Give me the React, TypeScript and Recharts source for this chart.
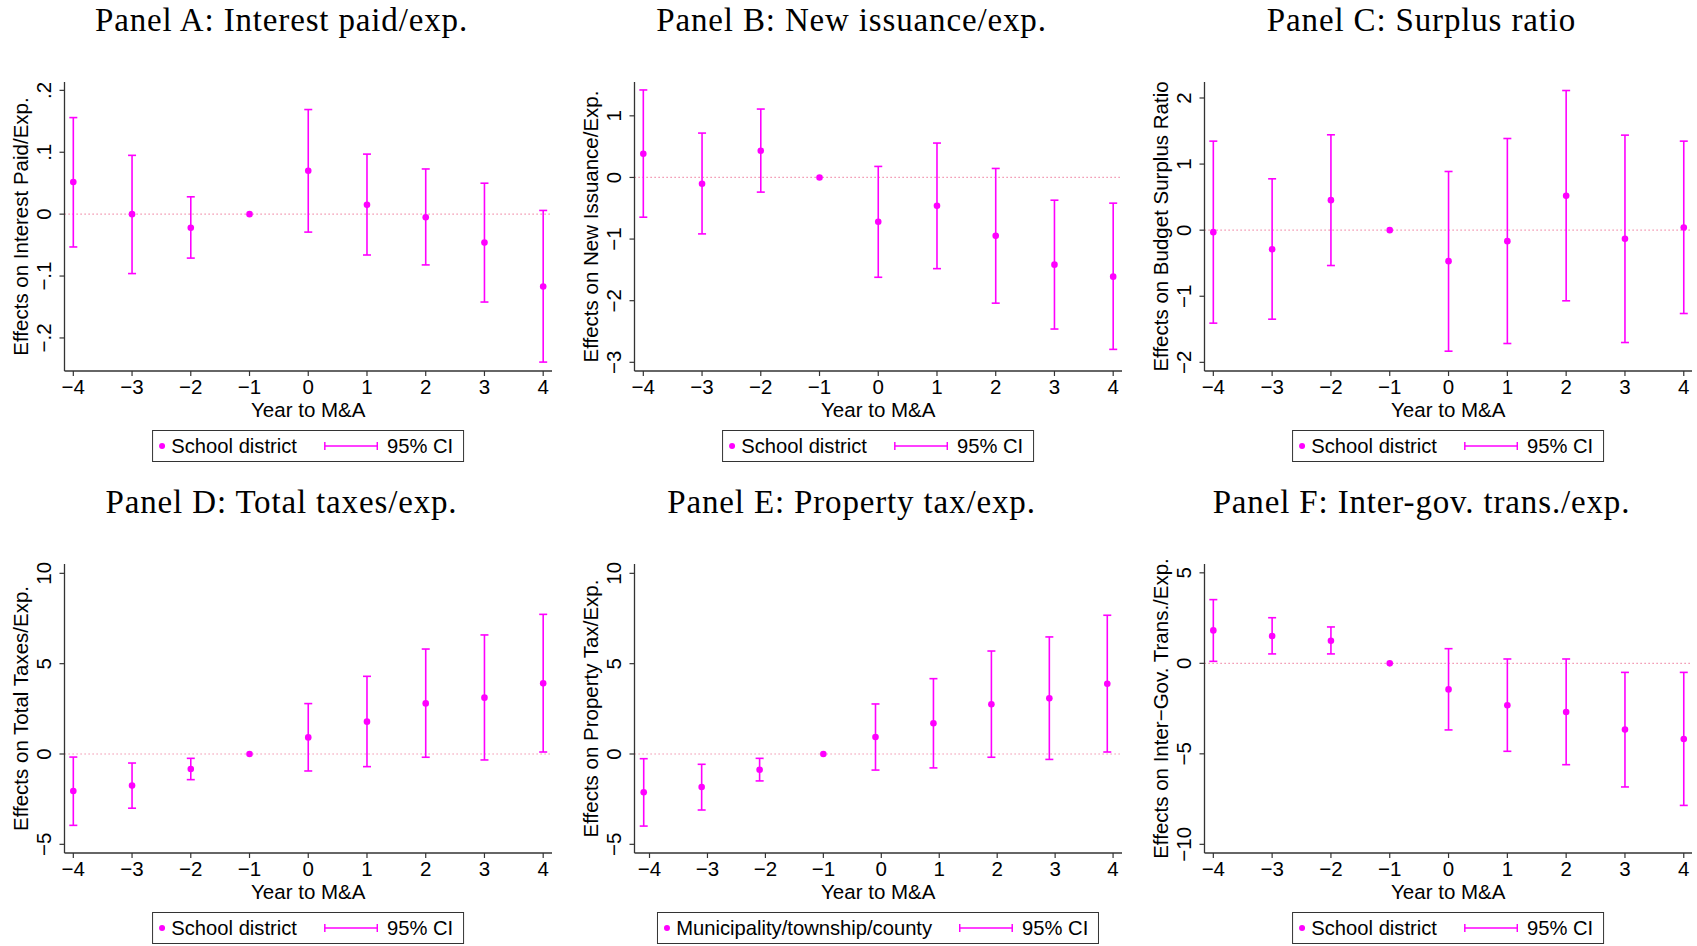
import { ScatterChart, Scatter, ErrorBar, XAxis, YAxis, ReferenceLine } from 'recharts';

const SANS = '"Liberation Sans", Arial, Helvetica, sans-serif';
const SERIF = '"Liberation Serif", "Times New Roman", serif';
const MAGENTA = '#ff00ff';
const FRAME = '#333333';
const FS = 20.5;

const years = [-4, -3, -2, -1, 0, 1, 2, 3, 4];
// panel E estimates sit a little left of each year (base year stays at -1)
const yearsShifted = [-4.1, -3.1, -2.1, -1, -0.1, 0.9, 1.9, 2.9, 3.9];

const interestCoef = [0.052, 0, -0.022, 0, 0.07, 0.015, -0.005, -0.046, -0.117];
const interestLo = [-0.053, -0.096, -0.071, null, -0.029, -0.066, -0.082, -0.142, -0.239];
const interestHi = [0.156, 0.095, 0.028, null, 0.169, 0.097, 0.073, 0.05, 0.006];

const issuanceCoef = [0.385, -0.103, 0.434, 0, -0.72, -0.46, -0.948, -1.415, -1.61];
const issuanceLo = [-0.645, -0.916, -0.238, null, -1.62, -1.48, -2.04, -2.46, -2.79];
const issuanceHi = [1.42, 0.72, 1.11, null, 0.179, 0.558, 0.146, -0.369, -0.417];

const surplusCoef = [-0.03, -0.288, 0.454, 0, -0.469, -0.166, 0.52, -0.131, 0.04];
const surplusLo = [-1.407, -1.347, -0.535, null, -1.831, -1.715, -1.069, -1.7, -1.261];
const surplusHi = [1.347, 0.777, 1.443, null, 0.888, 1.387, 2.113, 1.438, 1.347];

const taxesCoef = [-2.05, -1.75, -0.83, 0, 0.92, 1.79, 2.8, 3.12, 3.91];
const taxesLo = [-3.95, -3.0, -1.42, null, -0.94, -0.7, -0.18, -0.33, 0.11];
const taxesHi = [-0.17, -0.5, -0.24, null, 2.79, 4.3, 5.81, 6.59, 7.73];

const propTaxCoef = [-2.12, -1.83, -0.87, 0, 0.94, 1.7, 2.75, 3.08, 3.89];
const propTaxLo = [-3.99, -3.1, -1.49, null, -0.89, -0.77, -0.18, -0.3, 0.11];
const propTaxHi = [-0.26, -0.57, -0.24, null, 2.77, 4.17, 5.7, 6.48, 7.68];

const transCoef = [1.82, 1.51, 1.25, 0, -1.44, -2.32, -2.69, -3.66, -4.18];
const transLo = [0.11, 0.52, 0.52, null, -3.68, -4.86, -5.6, -6.83, -7.85];
const transHi = [3.52, 2.52, 2.01, null, 0.81, 0.24, 0.24, -0.5, -0.5];

const decimalFmt = (v: number) => {
  if (v === 0) return '0';
  const s = String(Math.abs(v)).replace(/^0/, '');
  return v < 0 ? '\u2212' + s : s;
};
const intFmt = (v: number) => (v < 0 ? '\u2212' + Math.abs(v) : String(v));

const panels = [
  { title: 'Panel A: Interest paid/exp.', yLabel: 'Effects on Interest Paid/Exp.', xs: years, coef: interestCoef, lo: interestLo, hi: interestHi, yDomain: [-0.2534, 0.2135], yTicks: [-0.2, -0.1, 0, 0.1, 0.2], xDomain: [-4.15, 4.15], fmt: decimalFmt, legend: 'School district' },
  { title: 'Panel B: New issuance/exp.', yLabel: 'Effects on New Issuance/Exp.', xs: years, coef: issuanceCoef, lo: issuanceLo, hi: issuanceHi, yDomain: [-3.141, 1.549], yTicks: [-3, -2, -1, 0, 1], xDomain: [-4.15, 4.15], fmt: intFmt, legend: 'School district' },
  { title: 'Panel C: Surplus ratio', yLabel: 'Effects on Budget Surplus Ratio', xs: years, coef: surplusCoef, lo: surplusLo, hi: surplusHi, yDomain: [-2.131, 2.242], yTicks: [-2, -1, 0, 1, 2], xDomain: [-4.15, 4.14], fmt: intFmt, legend: 'School district' },
  { title: 'Panel D: Total taxes/exp.', yLabel: 'Effects on Total Taxes/Exp.', xs: years, coef: taxesCoef, lo: taxesLo, hi: taxesHi, yDomain: [-5.48, 10.517], yTicks: [-5, 0, 5, 10], xDomain: [-4.15, 4.15], fmt: intFmt, legend: 'School district' },
  { title: 'Panel E: Property tax/exp.', yLabel: 'Effects on Property Tax/Exp.', xs: yearsShifted, coef: propTaxCoef, lo: propTaxLo, hi: propTaxHi, yDomain: [-5.48, 10.517], yTicks: [-5, 0, 5, 10], xDomain: [-4.259, 4.154], fmt: intFmt, legend: 'Municipality/township/county' },
  { title: 'Panel F: Inter-gov. trans./exp.', yLabel: 'Effects on Inter\u2212Gov. Trans./Exp.', xs: years, coef: transCoef, lo: transLo, hi: transHi, yDomain: [-10.479, 5.488], yTicks: [-10, -5, 0, 5], xDomain: [-4.15, 4.14], fmt: intFmt, legend: 'School district' },
];

const colLeft = [0, 570, 1140];
const rowTop = [0, 482];

function YTick(props: any) {
  const { x, y, payload, fmt } = props;
  return (
    <text x={x} y={y} transform={`rotate(-90 ${x} ${y})`} textAnchor="middle" fontSize={FS} fontFamily={SANS} fill="#000">
      {fmt(payload.value)}
    </text>
  );
}

function Dot(props: any) {
  return <circle cx={props.cx} cy={props.cy} r={3.3} fill={MAGENTA} />;
}

function Panel({ p, left, top }: { p: any; left: number; top: number }) {
  const data = p.xs.map((x: number, i: number) => ({
    x,
    y: p.coef[i],
    err: p.lo[i] == null ? undefined : [p.coef[i] - p.lo[i], p.hi[i] - p.coef[i]],
  }));

  return (
    <div style={{ position: 'absolute', left, top, width: 557, height: 464 }}>
      <div style={{ position: 'absolute', left: 3, top: 0, width: 557, height: 40, lineHeight: '40px', textAlign: 'center', fontFamily: SERIF, fontSize: 33, letterSpacing: 0.85, whiteSpace: 'nowrap', color: '#000' }}>
        {p.title}
      </div>
      <div style={{ position: 'absolute', left: 0, top: 60 }}>
        <ScatterChart width={557} height={361} margin={{ top: 22, right: 5, bottom: 0, left: 0 }}>
          <XAxis
            type="number"
            dataKey="x"
            domain={p.xDomain}
            ticks={years}
            allowDataOverflow
            height={50}
            tickSize={5}
            tickMargin={3.5}
            tickFormatter={intFmt}
            tick={{ fontSize: FS, fill: '#000', fontFamily: SANS }}
            tickLine={{ stroke: FRAME, strokeWidth: 1.2 }}
            axisLine={{ stroke: FRAME, strokeWidth: 1.3 }}
            label={{ value: 'Year to M&A', position: 'insideBottom', offset: 4.4, fontSize: FS, fill: '#000', fontFamily: SANS }}
          />
          <XAxis xAxisId="top" orientation="top" type="number" domain={p.xDomain} allowDataOverflow height={0} tick={false} tickLine={false} axisLine={{ stroke: FRAME, strokeWidth: 1.3 }} />
          <YAxis
            type="number"
            dataKey="y"
            domain={p.yDomain}
            ticks={p.yTicks}
            allowDataOverflow
            width={64.5}
            tickSize={5}
            tickMargin={8.15}
            tick={(t: any) => <YTick {...t} fmt={p.fmt} />}
            tickLine={{ stroke: FRAME, strokeWidth: 1.2 }}
            axisLine={{ stroke: FRAME, strokeWidth: 1.3 }}
            label={{ value: p.yLabel, angle: -90, position: 'insideLeft', offset: 20.5, fontSize: FS, fill: '#000', fontFamily: SANS, style: { textAnchor: 'middle' } }}
          />
          <YAxis yAxisId="right" orientation="right" type="number" domain={p.yDomain} allowDataOverflow width={0} tick={false} tickLine={false} axisLine={{ stroke: FRAME, strokeWidth: 1.3 }} />
          <ReferenceLine y={0} stroke="#ee7799" strokeWidth={1.2} strokeDasharray="1.2 2.8" />
          <Scatter data={data} fill={MAGENTA} shape={<Dot />} isAnimationActive={false}>
            <ErrorBar dataKey="err" direction="y" width={4} stroke={MAGENTA} strokeWidth={1.6} isAnimationActive={false} />
          </Scatter>
        </ScatterChart>
      </div>
      <div
        style={{
          position: 'absolute',
          left: 308.25,
          top: 430,
          transform: 'translateX(-50%)',
          height: 32,
          boxSizing: 'border-box',
          border: `1.3px solid ${FRAME}`,
          display: 'flex',
          alignItems: 'center',
          paddingLeft: 6,
          paddingRight: 10,
          whiteSpace: 'nowrap',
          fontFamily: SANS,
          fontSize: 20.2,
          color: '#000',
          background: '#fff',
        }}
      >
        <span style={{ display: 'inline-block', width: 6, height: 6, borderRadius: 3, background: MAGENTA, marginRight: 6 }} />
        <span>{p.legend}</span>
        <svg width={54} height={10} style={{ marginLeft: 27, marginRight: 9 }}>
          <line x1={0.75} y1={5} x2={53.25} y2={5} stroke={MAGENTA} strokeWidth={1.5} />
          <line x1={0.75} y1={1} x2={0.75} y2={9} stroke={MAGENTA} strokeWidth={1.5} />
          <line x1={53.25} y1={1} x2={53.25} y2={9} stroke={MAGENTA} strokeWidth={1.5} />
        </svg>
        <span>95% CI</span>
      </div>
    </div>
  );
}

export default function App() {
  return (
    <div style={{ position: 'absolute', left: 0, top: 0, width: 1697, height: 946, background: '#fff', overflow: 'hidden' }}>
      {panels.map((p, i) => (
        <Panel key={p.title} p={p} left={colLeft[i % 3]} top={rowTop[Math.floor(i / 3)]} />
      ))}
    </div>
  );
}
